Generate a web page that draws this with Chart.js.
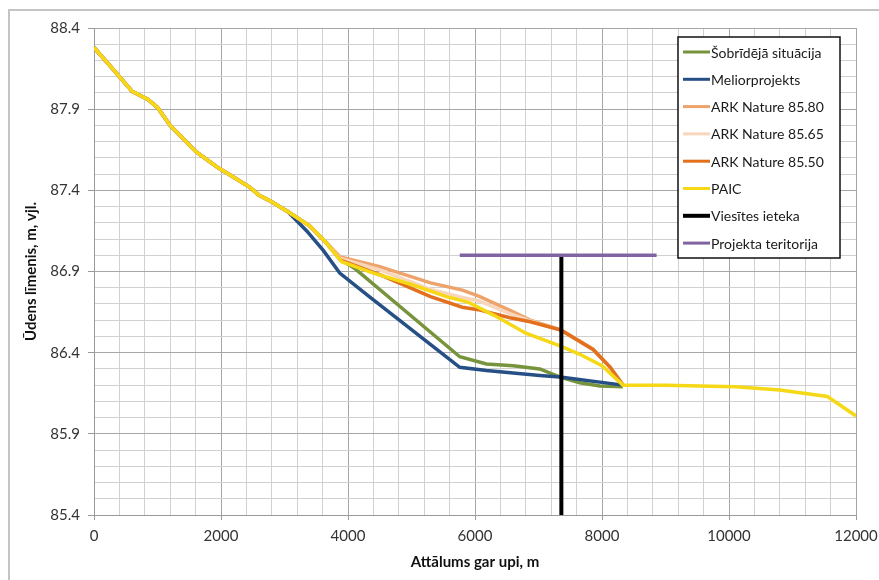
<!DOCTYPE html>
<html>
<head>
<meta charset="utf-8">
<script src="https://cdn.jsdelivr.net/npm/chart.js@4/dist/chart.umd.min.js"></script>
<style>
  html, body { margin: 0; padding: 0; background: #fff; }
  #wrap { width: 879px; height: 580px; position: relative; }
</style>
</head>
<body>
<div id="wrap"><canvas id="chart" width="879" height="580"></canvas></div>
<script>
// shared upstream profile (all variants coincide here)
const upstreamDist  = [0, 400, 600, 850, 1000, 1200, 1400, 1600, 1950, 2200, 2450, 2600, 2750, 3050];
const upstreamLevel = [88.28, 88.10, 88.01, 87.96, 87.91, 87.80, 87.72, 87.64, 87.54, 87.48, 87.42, 87.37, 87.34, 87.27];

const currentDist  = [3400, 3650, 3900, 4100, 5760, 6180, 6600, 7020, 7340, 7650, 7970, 8330];
const currentLevel = [87.18, 87.08, 86.97, 86.92, 86.375, 86.33, 86.32, 86.30, 86.25, 86.215, 86.195, 86.19];

const meliorDist  = [3350, 3610, 3870, 4350, 5760, 6180, 7020, 7340, 8330];
const meliorLevel = [87.15, 87.03, 86.89, 86.74, 86.31, 86.29, 86.26, 86.25, 86.20];

const arkDist   = [3400, 3650, 3880, 4500, 5300, 5800, 6050, 6550, 6870, 7350, 7860, 8130, 8330];
const ark580Level = [87.18, 87.08, 86.99, 86.93, 86.83, 86.785, 86.75, 86.66, 86.60, 86.54, 86.42, 86.31, 86.20];
const ark565Level = [87.18, 87.08, 86.98, 86.91, 86.79, 86.74, 86.72, 86.64, 86.595, 86.54, 86.42, 86.31, 86.20];
const ark550Level = [87.18, 87.08, 86.97, 86.88, 86.745, 86.68, 86.665, 86.615, 86.59, 86.54, 86.42, 86.31, 86.20];

const paicDist  = [3400, 3650, 3900, 4400, 5000, 5550, 5900, 6300, 6800, 7350, 7650, 8000, 8330, 9000, 10100, 10800, 11550, 12000];
const paicLevel = [87.18, 87.08, 86.96, 86.89, 86.82, 86.745, 86.71, 86.63, 86.52, 86.44, 86.39, 86.32, 86.20, 86.20, 86.19, 86.17, 86.13, 86.01];

const inflowDist  = [7360, 7360];
const inflowLevel = [87.0, 85.4];

const territoryDist  = [5760, 8860];
const territoryLevel = [87.0, 87.0];

const seriesNames  = ['Šobrīdējā situācija', 'Meliorprojekts', 'ARK Nature 85.80', 'ARK Nature 85.65', 'ARK Nature 85.50', 'PAIC', 'Viesītes ieteka', 'Projekta teritorija'];
const seriesColors = ['#77933c', '#254f85', '#eea36b', '#f8d6bb', '#e2701c', '#f5d816', '#000000', '#8064a2'];

const yTicks = [85.4, 85.9, 86.4, 86.9, 87.4, 87.9, 88.4];
const xTicks = [0, 2000, 4000, 6000, 8000, 10000, 12000];

function toPoints(xs, ys) {
    return xs.map((x, i) => ({ x: x, y: ys[i] }));
}

const seriesPoints = [
    toPoints(upstreamDist.concat(currentDist), upstreamLevel.concat(currentLevel)),
    toPoints(upstreamDist.concat(meliorDist), upstreamLevel.concat(meliorLevel)),
    toPoints(upstreamDist.concat(arkDist), upstreamLevel.concat(ark580Level)),
    toPoints(upstreamDist.concat(arkDist), upstreamLevel.concat(ark565Level)),
    toPoints(upstreamDist.concat(arkDist), upstreamLevel.concat(ark550Level)),
    toPoints(upstreamDist.concat(paicDist), upstreamLevel.concat(paicLevel)),
    toPoints(inflowDist, inflowLevel),
    toPoints(territoryDist, territoryLevel)
];

const datasets = seriesNames.map((name, i) => ({
    label: name,
    data: seriesPoints[i],
    borderColor: seriesColors[i],
    backgroundColor: seriesColors[i],
    borderWidth: i === 6 ? 4 : 3.5,
    pointRadius: 0,
    showLine: true,
    fill: false,
    tension: 0,
    order: 10 - i
}));

const isMajorY = v => yTicks.some(t => Math.abs(t - v) < 1e-6);
const isMajorX = v => xTicks.includes(Math.round(v));

// excel-style boxed legend inside the plot + chart frame
const boxLegend = {
    id: 'boxLegend',
    beforeDraw(chart) {
        const ctx = chart.ctx;
        ctx.save();
        ctx.fillStyle = '#fff';
        ctx.fillRect(0, 0, chart.width, chart.height);
        ctx.strokeStyle = '#c4c4c4';
        ctx.lineWidth = 2;
        ctx.beginPath();
        ctx.moveTo(9, chart.height);
        ctx.lineTo(9, 10);
        ctx.lineTo(chart.width, 10);
        ctx.stroke();
        ctx.restore();
    },
    afterDraw(chart) {
        const ctx = chart.ctx;
        const left = 678, top = 37, w = 162, h = 221;
        ctx.save();
        ctx.fillStyle = '#fff';
        ctx.fillRect(left, top, w, h);
        ctx.strokeStyle = '#111';
        ctx.lineWidth = 1.5;
        ctx.strokeRect(left, top, w, h);
        ctx.font = '14px Lato';
        ctx.textBaseline = 'middle';
        chart.data.datasets.forEach((ds, i) => {
            const y = top + 15 + i * 27.3;
            ctx.strokeStyle = ds.borderColor;
            ctx.lineWidth = i === 6 ? 4 : 3;
            ctx.beginPath();
            ctx.moveTo(left + 5, y);
            ctx.lineTo(left + 32, y);
            ctx.stroke();
            ctx.fillStyle = '#1a1a1a';
            ctx.fillText(ds.label, left + 33, y + 1);
        });
        ctx.restore();
    }
};

new Chart(document.getElementById('chart'), {
    type: 'scatter',
    data: { datasets: datasets },
    options: {
        responsive: false,
        animation: false,
        layout: { autoPadding: false, padding: { left: 0, top: 28, right: 23, bottom: 0 } },
        plugins: {
            legend: { display: false },
            tooltip: { enabled: false }
        },
        scales: {
            x: {
                type: 'linear',
                min: 0,
                max: 12000,
                afterFit: s => { s.height = 65; s.paddingLeft = 0; s.paddingRight = 0; },
                border: { color: '#9a9a9a', width: 1 },
                grid: {
                    color: c => isMajorX(c.tick.value) ? '#a6a6a6' : '#d0d0d0',
                    tickColor: c => isMajorX(c.tick.value) ? '#9a9a9a' : 'rgba(0,0,0,0)',
                    tickLength: 5
                },
                ticks: {
                    stepSize: 400,
                    autoSkip: false,
                    maxRotation: 0,
                    padding: 7,
                    color: '#333',
                    font: { family: 'Lato', size: 15 },
                    callback: v => isMajorX(v) ? String(Math.round(v)) : ''
                },
                title: {
                    display: true,
                    text: 'Attālums gar upi, m',
                    color: '#111',
                    font: { family: 'Lato', size: 15, weight: 'bold' },
                    padding: { top: 0, bottom: 9 }
                }
            },
            y: {
                min: 85.4,
                max: 88.4,
                afterFit: s => { s.width = 94; s.paddingTop = 0; s.paddingBottom = 0; },
                border: { color: '#9a9a9a', width: 1 },
                grid: {
                    color: c => isMajorY(c.tick.value) ? '#a6a6a6' : '#d0d0d0',
                    tickColor: c => isMajorY(c.tick.value) ? '#9a9a9a' : 'rgba(0,0,0,0)',
                    tickLength: 6
                },
                ticks: {
                    stepSize: 0.1,
                    autoSkip: false,
                    padding: 8,
                    color: '#333',
                    font: { family: 'Lato', size: 15 },
                    callback: v => isMajorY(v) ? v.toFixed(1) : ''
                },
                title: {
                    display: true,
                    text: 'Ūdens līmenis, m, vjl.',
                    color: '#111',
                    font: { family: 'Lato', size: 15, weight: 'bold' },
                    padding: { top: 22, bottom: 0 }
                }
            }
        }
    },
    plugins: [boxLegend]
});
</script>
</body>
</html>
